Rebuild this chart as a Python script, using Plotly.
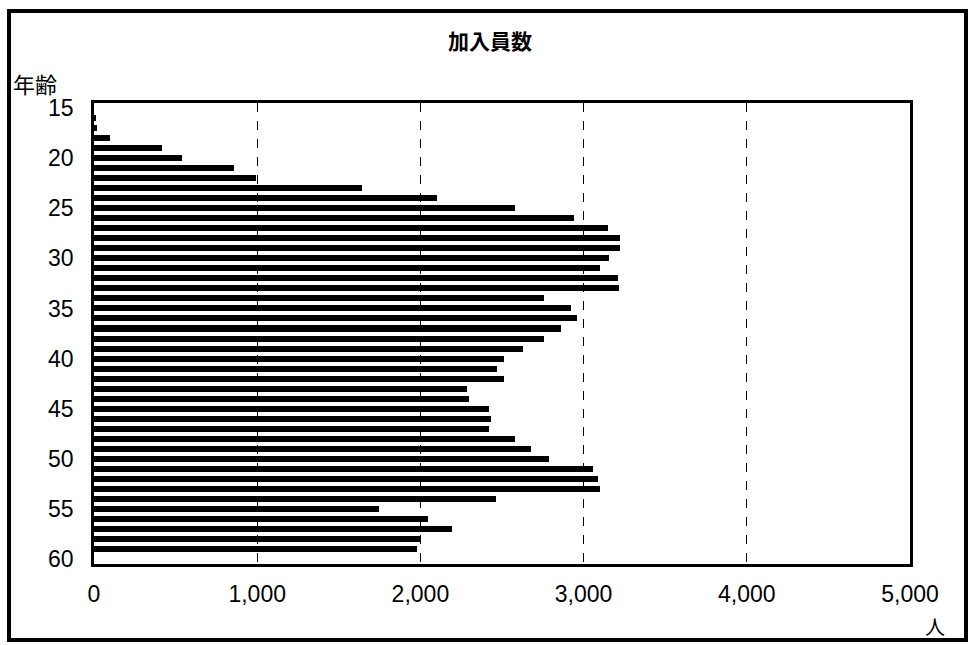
import plotly.graph_objects as go

# ---- data ----
ages = list(range(16, 60))
members = [10, 20, 100, 415, 540, 860, 990, 1640, 2100, 2580,
           2940, 3150, 3225, 3225, 3155, 3100, 3210, 3215, 2755, 2920,
           2960, 2860, 2760, 2630, 2510, 2470, 2515, 2285, 2300, 2420,
           2430, 2420, 2580, 2675, 2785, 3055, 3090, 3100, 2465, 1745,
           2045, 2195, 2005, 1980]
x_ticks = [0, 1000, 2000, 3000, 4000, 5000]
x_ticktext = ["0", "1,000", "2,000", "3,000", "4,000", "5,000"]
y_ticks = [15, 20, 25, 30, 35, 40, 45, 50, 55, 60]

title_text = "加入員数"
y_title = "年齢"
x_unit = "人"

W, H = 970, 645
ML, MR, MT, MB = 94, 60, 103, 81
PW = W - ML - MR
PH = H - MT - MB

num_font = "Liberation Sans Narrow, Arial Narrow, Liberation Sans, Arial"
cjk_font = "Noto Sans CJK JP, Noto Sans CJK SC, sans-serif"

fig = go.Figure()
fig.add_trace(go.Bar(
    x=members, y=ages, orientation="h", width=0.6,
    marker=dict(color="black", line=dict(width=0)),
    showlegend=False,
))


def px_x(p):
    return (p - ML) / PW


def px_y(p):
    return (MT + PH - p) / PH


fig.update_layout(
    width=W, height=H,
    margin=dict(l=ML, r=MR, t=MT, b=MB),
    paper_bgcolor="white", plot_bgcolor="white",
    bargap=0,
    xaxis=dict(range=[0, 5000], tickvals=x_ticks, ticktext=x_ticktext,
               showgrid=True, gridcolor="black", gridwidth=1, griddash="dash",
               showline=True, linecolor="black", linewidth=2.5, mirror=True,
               zeroline=False, ticks="", ticklabelstandoff=8,
               tickfont=dict(family=num_font, size=23, color="black")),
    yaxis=dict(range=[60.5, 14.5], tickvals=y_ticks,
               showgrid=False, showline=True, linecolor="black",
               linewidth=2.5, mirror=True, zeroline=False, ticks="",
               ticklabelstandoff=13,
               tickfont=dict(family=num_font, size=23, color="black")),
    shapes=[dict(type="rect", xref="paper", yref="paper",
                 x0=px_x(9), x1=px_x(966), y0=px_y(640), y1=px_y(11),
                 line=dict(color="black", width=4), layer="below")],
    annotations=[
        dict(text=title_text, xref="paper", yref="paper",
             x=px_x(490), y=px_y(40), xanchor="center", yanchor="middle",
             showarrow=False,
             font=dict(family=cjk_font, size=21, color="black", weight="bold")),
        dict(text=y_title, xref="paper", yref="paper", x=px_x(11),
             y=px_y(83), xanchor="left", yanchor="middle", showarrow=False,
             font=dict(family=cjk_font, size=22, color="black")),
        dict(text=x_unit, xref="paper", yref="paper", x=px_x(935),
             y=px_y(626), xanchor="center", yanchor="middle", showarrow=False,
             font=dict(family=cjk_font, size=20, color="black")),
    ],
)

fig.write_html("out.html")
